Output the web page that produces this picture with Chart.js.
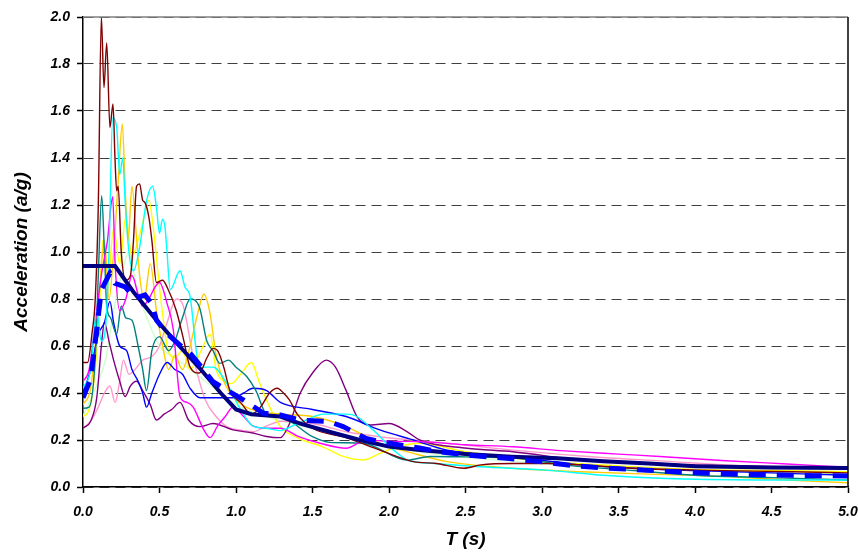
<!DOCTYPE html>
<html>
<head>
<meta charset="utf-8">
<script src="https://cdn.jsdelivr.net/npm/chart.js@4.4.1/dist/chart.umd.min.js"></script>
<style>
  html, body { margin: 0; padding: 0; background: #fff; }
  canvas { display: block; }
</style>
</head>
<body>
<canvas id="spectra" width="858" height="554"></canvas>
<script>
// period T (s) and spectral acceleration (a/g)
const designT = [0, 0.21, 0.33, 0.48, 0.63, 0.77, 0.9, 1.0, 1.1, 1.29, 1.42, 1.61, 1.81, 2.0, 2.2, 2.5, 2.8, 3.1, 3.4, 3.7, 4.0, 4.5, 5.0];
const designA = [0.94, 0.94, 0.83, 0.71, 0.60, 0.50, 0.40, 0.33, 0.31, 0.30, 0.27, 0.235, 0.20, 0.172, 0.157, 0.14, 0.129, 0.122, 0.11, 0.10, 0.088, 0.083, 0.081];

const meanT = [0, 0.05, 0.09, 0.12, 0.176, 0.209, 0.275, 0.34, 0.405, 0.449, 0.48, 0.547, 0.634, 0.71, 0.85, 0.96, 1.05, 1.18, 1.29, 1.42, 1.61, 1.70, 1.85, 1.94, 2.07, 2.20, 2.33, 2.51, 2.77, 2.99, 3.23, 3.44, 3.66, 3.88, 4.10, 4.31, 4.53, 4.77, 5.0];
const meanA = [0.38, 0.46, 0.67, 0.84, 0.91, 0.867, 0.852, 0.803, 0.817, 0.78, 0.71, 0.654, 0.604, 0.562, 0.448, 0.405, 0.37, 0.314, 0.306, 0.285, 0.278, 0.257, 0.207, 0.193, 0.179, 0.166, 0.15, 0.136, 0.122, 0.108, 0.089, 0.08, 0.072, 0.065, 0.058, 0.054, 0.051, 0.048, 0.047];

const maroonT = [0, 0.03, 0.06, 0.08, 0.1, 0.12, 0.137, 0.155, 0.176, 0.196, 0.209, 0.22, 0.23, 0.25, 0.28, 0.31, 0.33, 0.35, 0.37, 0.39, 0.405, 0.43, 0.45, 0.48, 0.52, 0.55, 0.61, 0.66, 0.70, 0.76, 0.81, 0.85, 0.88, 0.92, 0.96, 1.03, 1.10, 1.16, 1.22, 1.27, 1.31, 1.35, 1.40, 1.5, 1.72, 1.94, 2.16, 2.31, 2.49, 2.6, 2.81, 3.03, 3.25, 3.6, 4.0, 4.64, 5.0];
const maroonA = [0.53, 0.53, 0.66, 0.8, 1.2, 2.0, 1.70, 1.89, 1.53, 1.63, 1.40, 1.26, 1.28, 1.0, 0.88, 0.9, 1.05, 1.28, 1.29, 1.22, 1.21, 1.15, 1.05, 0.87, 0.88, 0.85, 0.75, 0.62, 0.51, 0.485, 0.55, 0.59, 0.58, 0.51, 0.41, 0.36, 0.31, 0.34, 0.40, 0.42, 0.40, 0.37, 0.31, 0.25, 0.21, 0.157, 0.108, 0.10, 0.08, 0.094, 0.10, 0.10, 0.094, 0.08, 0.072, 0.065, 0.06];

const cyanT = [0, 0.05, 0.09, 0.12, 0.15, 0.17, 0.194, 0.22, 0.24, 0.26, 0.275, 0.3, 0.33, 0.37, 0.416, 0.455, 0.48, 0.50, 0.52, 0.535, 0.547, 0.57, 0.634, 0.667, 0.70, 0.74, 0.765, 0.85, 0.94, 1.03, 1.11, 1.2, 1.29, 1.37, 1.46, 1.57, 1.72, 1.79, 1.90, 2.03, 2.12, 2.3, 2.6, 3.03, 3.4, 3.77, 4.42, 5.0];
const cyanA = [0.42, 0.5, 0.75, 0.62, 0.7, 1.0, 1.57, 1.53, 1.33, 1.40, 1.22, 1.0, 0.92, 1.02, 1.22, 1.28, 1.19, 1.08, 1.14, 1.11, 1.02, 0.84, 0.92, 0.85, 0.81, 0.58, 0.51, 0.51, 0.44, 0.33, 0.26, 0.25, 0.24, 0.26, 0.285, 0.31, 0.31, 0.30, 0.24, 0.157, 0.115, 0.1, 0.086, 0.072, 0.05, 0.037, 0.03, 0.03];

const goldT = [0, 0.05, 0.08, 0.11, 0.14, 0.17, 0.2, 0.23, 0.257, 0.275, 0.295, 0.32, 0.345, 0.37, 0.4, 0.44, 0.48, 0.52, 0.56, 0.6, 0.65, 0.7, 0.75, 0.79, 0.83, 0.87, 0.92, 1.0, 1.1, 1.29, 1.5, 1.72, 1.94, 2.16, 2.38, 2.81, 3.25, 3.7, 4.2, 4.6, 5.0];
const goldA = [0.35, 0.42, 0.6, 0.85, 1.05, 0.8, 1.0, 1.3, 1.545, 1.28, 1.05, 1.28, 1.1, 0.9, 0.8, 0.95, 0.75, 0.6, 0.5, 0.56, 0.5, 0.6, 0.74, 0.82, 0.74, 0.56, 0.45, 0.37, 0.33, 0.31, 0.30, 0.257, 0.186, 0.143, 0.108, 0.08, 0.065, 0.055, 0.044, 0.03, 0.018];

const yellowT = [0, 0.04, 0.08, 0.11, 0.13, 0.16, 0.2, 0.24, 0.28, 0.32, 0.36, 0.4, 0.43, 0.46, 0.5, 0.55, 0.6, 0.65, 0.7, 0.75, 0.8, 0.83, 0.87, 0.92, 0.97, 1.03, 1.1, 1.15, 1.22, 1.29, 1.4, 1.57, 1.7, 1.83, 1.94, 2.05, 2.2, 2.5, 3.0, 3.5, 4.0, 4.5, 5.0];
const yellowA = [0.3, 0.33, 0.5, 0.8, 1.05, 0.85, 1.1, 0.95, 1.15, 0.98, 1.05, 1.15, 1.22, 1.1, 0.85, 0.6, 0.55, 0.58, 0.5, 0.55, 0.62, 0.65, 0.5, 0.45, 0.44, 0.48, 0.53, 0.45, 0.34, 0.257, 0.21, 0.17, 0.13, 0.115, 0.143, 0.17, 0.186, 0.15, 0.11, 0.09, 0.075, 0.07, 0.065];

const tealT = [0, 0.04, 0.08, 0.1, 0.122, 0.14, 0.155, 0.18, 0.22, 0.25, 0.28, 0.32, 0.36, 0.39, 0.415, 0.45, 0.5, 0.56, 0.6, 0.65, 0.70, 0.76, 0.81, 0.85, 0.895, 0.95, 1.0, 1.07, 1.13, 1.2, 1.29, 1.5, 1.61, 1.83, 2.12, 2.27, 2.5, 2.81, 3.2, 3.6, 4.0, 4.5, 5.0];
const tealA = [0.335, 0.34, 0.55, 0.9, 1.24, 1.0, 0.77, 0.72, 0.65, 0.77, 0.72, 0.71, 0.6, 0.5, 0.41, 0.58, 0.64, 0.58, 0.62, 0.72, 0.80, 0.767, 0.62, 0.58, 0.526, 0.54, 0.51, 0.47, 0.41, 0.31, 0.30, 0.214, 0.19, 0.186, 0.115, 0.13, 0.128, 0.123, 0.09, 0.07, 0.05, 0.04, 0.03];

const magentaT = [0, 0.04, 0.08, 0.12, 0.16, 0.194, 0.21, 0.24, 0.28, 0.32, 0.36, 0.39, 0.43, 0.47, 0.50, 0.55, 0.59, 0.634, 0.68, 0.72, 0.79, 0.83, 0.88, 0.93, 0.98, 1.05, 1.11, 1.2, 1.29, 1.41, 1.55, 1.72, 1.85, 2.0, 2.2, 2.5, 2.81, 3.12, 3.5, 3.77, 4.2, 4.6, 5.0];
const magentaA = [0.45, 0.5, 0.7, 0.9, 1.05, 1.235, 0.95, 0.75, 0.8, 0.9, 0.82, 0.77, 0.8, 0.85, 0.87, 0.78, 0.67, 0.385, 0.36, 0.34, 0.243, 0.21, 0.26, 0.3, 0.34, 0.3, 0.26, 0.25, 0.25, 0.214, 0.186, 0.165, 0.2, 0.195, 0.193, 0.18, 0.171, 0.155, 0.14, 0.13, 0.112, 0.098, 0.084];

const blueT = [0, 0.05, 0.1, 0.14, 0.176, 0.2, 0.24, 0.285, 0.32, 0.36, 0.39, 0.415, 0.45, 0.5, 0.55, 0.6, 0.65, 0.7, 0.765, 0.85, 0.98, 1.05, 1.11, 1.2, 1.29, 1.5, 1.72, 1.94, 2.16, 2.38, 2.81, 3.25, 3.6, 4.0, 4.5, 5.0];
const blueA = [0.4, 0.5, 0.65, 0.7, 0.79, 0.7, 0.6, 0.58, 0.5, 0.45, 0.4, 0.34, 0.4, 0.48, 0.53, 0.5, 0.48, 0.42, 0.38, 0.38, 0.38, 0.4, 0.42, 0.41, 0.36, 0.33, 0.30, 0.243, 0.2, 0.157, 0.129, 0.094, 0.08, 0.07, 0.06, 0.05];

const purpleT = [0, 0.05, 0.09, 0.12, 0.14, 0.17, 0.2, 0.24, 0.275, 0.31, 0.35, 0.39, 0.44, 0.48, 0.53, 0.58, 0.634, 0.69, 0.765, 0.85, 0.98, 1.11, 1.2, 1.29, 1.35, 1.42, 1.5, 1.59, 1.65, 1.72, 1.79, 1.88, 2.0, 2.12, 2.2, 2.51, 2.81, 3.25, 3.7, 4.2, 4.6, 5.0];
const purpleA = [0.25, 0.28, 0.38, 0.6, 0.7, 0.62, 0.54, 0.45, 0.385, 0.43, 0.45, 0.41, 0.35, 0.285, 0.31, 0.33, 0.36, 0.285, 0.257, 0.27, 0.243, 0.23, 0.215, 0.21, 0.27, 0.40, 0.485, 0.54, 0.51, 0.41, 0.30, 0.264, 0.27, 0.235, 0.2, 0.165, 0.15, 0.115, 0.1, 0.09, 0.085, 0.08];

const pinkT = [0, 0.05, 0.1, 0.14, 0.176, 0.21, 0.24, 0.264, 0.3, 0.34, 0.39, 0.45, 0.5, 0.55, 0.61, 0.65, 0.72, 0.8, 0.87, 0.94, 1.05, 1.11, 1.2, 1.3, 1.5, 1.72, 1.94, 2.38, 2.81, 3.3, 3.8, 4.2, 4.6, 5.0];
const pinkA = [0.25, 0.28, 0.34, 0.4, 0.43, 0.36, 0.45, 0.54, 0.48, 0.5, 0.54, 0.555, 0.6, 0.7, 0.8, 0.78, 0.555, 0.37, 0.3, 0.257, 0.24, 0.235, 0.26, 0.28, 0.27, 0.235, 0.214, 0.186, 0.157, 0.13, 0.11, 0.094, 0.085, 0.075];

const greenT = [0, 0.1, 0.15, 0.2, 0.25, 0.3, 0.35, 0.4, 0.5, 0.6, 0.7, 0.8, 1.0, 1.3, 1.5, 2.0, 3.0, 4.0, 5.0];
const greenA = [0.3, 0.45, 0.55, 0.75, 0.9, 1.0, 0.85, 0.75, 0.6, 0.55, 0.5, 0.45, 0.35, 0.28, 0.25, 0.17, 0.1, 0.07, 0.055];

const xTicks = [0, 0.5, 1.0, 1.5, 2.0, 2.5, 3.0, 3.5, 4.0, 4.5, 5.0];
const yTicks = [0, 0.2, 0.4, 0.6, 0.8, 1.0, 1.2, 1.4, 1.6, 1.8, 2.0];

function pts(ts, as) {
  return ts.map((t, i) => ({ x: t, y: as[i] }));
}

function record(ts, as, color) {
  return {
    data: pts(ts, as),
    borderColor: color,
    borderWidth: 1.4,
    pointRadius: 0,
    cubicInterpolationMode: "monotone",
    fill: false,
  };
}

const frame = {
  id: "frame",
  afterDatasetsDraw(chart) {
    const { ctx, chartArea } = chart;
    ctx.save();
    ctx.strokeStyle = "#808080";
    ctx.lineWidth = 1.5;
    ctx.beginPath();
    ctx.moveTo(chartArea.left, chartArea.top);
    ctx.lineTo(chartArea.right, chartArea.top);
    ctx.stroke();
    ctx.strokeStyle = "#000";
    ctx.beginPath();
    ctx.moveTo(chartArea.right, chartArea.top);
    ctx.lineTo(chartArea.right, chartArea.bottom);
    ctx.stroke();
    ctx.restore();
  },
};

const tickFont = { family: "'Liberation Sans', Arial, sans-serif", size: 14, weight: "bold", style: "italic" };
const titleFont = { family: "'Liberation Sans', Arial, sans-serif", size: 19, weight: "bold", style: "italic" };

new Chart(document.getElementById("spectra"), {
  type: "line",
  data: {
    datasets: [
      {
        data: pts(meanT, meanA),
        borderColor: "#0000ff",
        borderWidth: 5,
        borderDash: [17, 11],
        pointRadius: 0,
        fill: false,
      },
      {
        data: pts(designT, designA),
        borderColor: "#000080",
        borderWidth: 4,
        pointRadius: 0,
        fill: false,
      },
      record(maroonT, maroonA, "#800000"),
      record(cyanT, cyanA, "#00ffff"),
      record(magentaT, magentaA, "#ff00ff"),
      record(tealT, tealA, "#008080"),
      record(blueT, blueA, "#0000ff"),
      record(purpleT, purpleA, "#800080"),
      record(goldT, goldA, "#ffcc00"),
      record(yellowT, yellowA, "#ffff00"),
      record(pinkT, pinkA, "#ff99cc"),
      record(greenT, greenA, "#ccffcc"),
    ],
  },
  options: {
    responsive: false,
    animation: false,
    layout: { padding: { top: 17, right: 0, left: 0, bottom: 0 } },
    plugins: { legend: { display: false }, tooltip: { enabled: false } },
    scales: {
      x: {
        type: "linear",
        min: 0,
        max: 5,
        afterBuildTicks: (s) => { s.ticks = xTicks.map((v) => ({ value: v })); },
        afterFit: (s) => { s.height = 67; s.paddingRight = 10; },
        ticks: {
          color: "#000",
          font: tickFont,
          padding: 11,
          maxRotation: 0,
          callback: (v) => v.toFixed(1),
        },
        grid: { drawOnChartArea: false, drawTicks: true, tickLength: 6, tickColor: "#000", tickWidth: 1.5 },
        border: { color: "#000", width: 1.5 },
        title: { display: true, text: "T (s)", color: "#000", font: titleFont, padding: { top: 0, bottom: 3 } },
      },
      y: {
        min: 0,
        max: 2,
        afterBuildTicks: (s) => { s.ticks = yTicks.map((v) => ({ value: v })); },
        afterFit: (s) => { s.width = 83; },
        ticks: {
          color: "#000",
          font: tickFont,
          padding: 7,
          callback: (v) => v.toFixed(1),
        },
        grid: { color: "#404040", lineWidth: 1, tickLength: 6, tickColor: "#000", tickWidth: 1.5, tickBorderDash: [] },
        border: { color: "#000", width: 1.5, dash: [10, 6] },
        title: { display: true, text: "Acceleration (a/g)", color: "#000", font: titleFont, padding: { top: 10, bottom: 0 } },
      },
    },
  },
  plugins: [frame],
});
</script>
</body>
</html>
